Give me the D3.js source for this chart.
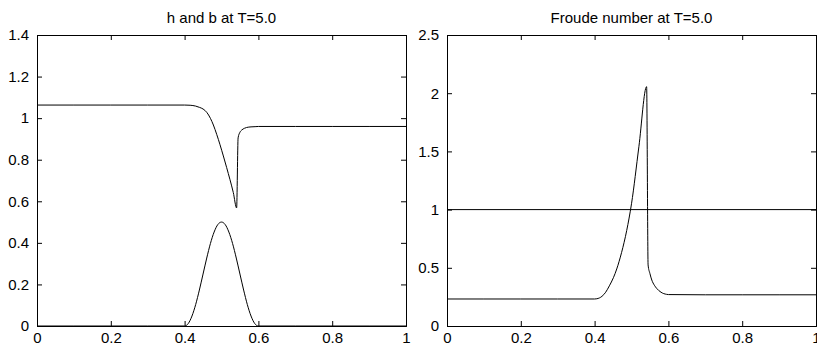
<!DOCTYPE html>
<html>
<head>
<meta charset="utf-8">
<script src="https://cdn.jsdelivr.net/npm/d3@7"></script>
<style>
  body { margin: 0; background: #fff; }
  svg text { font-family: "Liberation Sans", Arial, sans-serif; fill: #000; }
  .axis path, .axis line { stroke: #000; }
</style>
</head>
<body>
<div id="chart"></div>
<script>
// h (water surface) at T=5.0
var hX = [0, 0.1, 0.2, 0.3, 0.4, 0.415, 0.43, 0.44, 0.45, 0.46, 0.47, 0.478, 0.487, 0.496, 0.505, 0.514, 0.523, 0.532, 0.541, 0.545, 0.55, 0.555, 0.562, 0.568, 0.58, 0.591, 0.6, 0.7, 0.8, 0.9, 1];
var hY = [1.063, 1.063, 1.063, 1.063, 1.063, 1.062, 1.058, 1.052, 1.044, 1.028, 0.999, 0.967, 0.922, 0.872, 0.818, 0.762, 0.704, 0.642, 0.568, 0.905, 0.932, 0.943, 0.951, 0.955, 0.958, 0.959, 0.96, 0.96, 0.96, 0.96, 0.96];

// b (bottom bump)
var bX = [0, 0.1, 0.2, 0.3, 0.4, 0.41, 0.42, 0.43, 0.44, 0.45, 0.46, 0.47, 0.48, 0.49, 0.5, 0.51, 0.52, 0.53, 0.54, 0.55, 0.56, 0.57, 0.58, 0.59, 0.6, 0.7, 0.8, 0.9, 1];
var bY = [0, 0, 0, 0, 0, 0.012, 0.048, 0.103, 0.173, 0.25, 0.327, 0.397, 0.452, 0.488, 0.5, 0.488, 0.452, 0.397, 0.327, 0.25, 0.173, 0.103, 0.048, 0.012, 0, 0, 0, 0, 0];

// Froude number
var frX = [0, 0.1, 0.2, 0.3, 0.4, 0.406, 0.42, 0.43, 0.44, 0.451, 0.46, 0.473, 0.487, 0.5, 0.52, 0.541, 0.545, 0.55, 0.555, 0.562, 0.568, 0.58, 0.595, 0.6, 0.7, 0.8, 0.9, 1];
var frY = [0.232, 0.232, 0.232, 0.232, 0.232, 0.234, 0.255, 0.29, 0.345, 0.415, 0.49, 0.63, 0.82, 1.05, 1.54, 2.056, 0.524, 0.45, 0.395, 0.35, 0.324, 0.29, 0.272, 0.27, 0.268, 0.268, 0.268, 0.268];
var oneX = [0, 1];
var oneY = [1, 1];

var xTicks = [0, 0.2, 0.4, 0.6, 0.8, 1];
var leftYTicks = [0, 0.2, 0.4, 0.6, 0.8, 1, 1.2, 1.4];
var rightYTicks = [0, 0.5, 1, 1.5, 2, 2.5];

var svgWidth = 817;
var svgHeight = 350;

var mysvg = d3.select("#chart")
    .append("svg")
    .attr("width", svgWidth)
    .attr("height", svgHeight);

var fmt = d => String(+d.toFixed(2));

function panel(opts) {
    var left = opts.left, right = opts.right, top = 35, bottom = 326;
    var x = d3.scaleLinear().domain([0, 1]).range([left, right]);
    var y = d3.scaleLinear().domain([0, opts.ymax]).range([bottom, top]);

    // title
    mysvg.append("text")
        .attr("x", (left + right) / 2)
        .attr("y", 23)
        .attr("text-anchor", "middle")
        .style("font-size", "15px")
        .text(opts.title);

    // lines (smoothed, jumps kept by monotone curve)
    var line = d3.line().x(d => x(d[0])).y(d => y(d[1])).curve(d3.curveMonotoneX);
    opts.series.forEach(function(s) {
        mysvg.append("path")
            .datum(d3.zip(s[0], s[1]))
            .attr("fill", "none")
            .attr("stroke", "#000")
            .attr("stroke-width", 1)
            .attr("d", line);
    });

    // axes, ticks inward on all four sides
    var bot = mysvg.append("g").attr("class", "axis")
        .attr("transform", `translate(0, ${bottom})`)
        .call(d3.axisBottom(x).tickValues(xTicks).tickFormat(fmt).tickSize(-5).tickPadding(6));
    var lft = mysvg.append("g").attr("class", "axis")
        .attr("transform", `translate(${left}, 0)`)
        .call(d3.axisLeft(y).tickValues(opts.yTicks).tickFormat(fmt).tickSize(-5).tickPadding(8));
    mysvg.append("g").attr("class", "axis")
        .attr("transform", `translate(0, ${top})`)
        .call(d3.axisTop(x).tickValues(xTicks).tickFormat("").tickSize(-5));
    mysvg.append("g").attr("class", "axis")
        .attr("transform", `translate(${right}, 0)`)
        .call(d3.axisRight(y).tickValues(opts.yTicks).tickFormat("").tickSize(-5));

    [bot, lft].forEach(g => g.selectAll("text").style("font-size", "15px").attr("fill", "#000"));
}

panel({
    left: 37, right: 406, ymax: 1.4, yTicks: leftYTicks,
    title: "h and b at T=5.0",
    series: [[hX, hY], [bX, bY]]
});

panel({
    left: 447, right: 816, ymax: 2.5, yTicks: rightYTicks,
    title: "Froude number at T=5.0",
    series: [[frX, frY], [oneX, oneY]]
});
</script>
</body>
</html>
